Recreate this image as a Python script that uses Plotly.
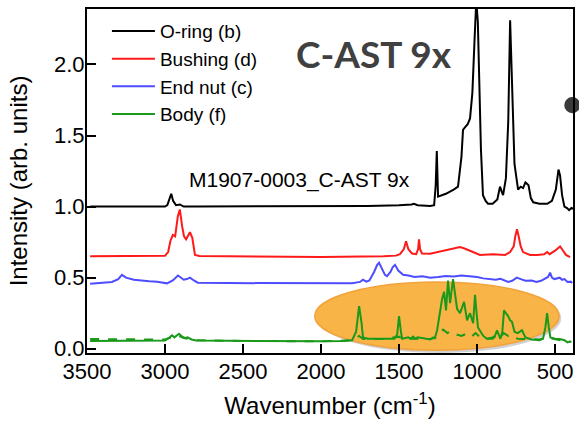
import plotly.graph_objects as go

# ---------------- data ----------------
oring_x = [3480, 3100, 3000, 2985, 2972, 2960, 2948, 2930, 2905, 2880, 2800, 2500, 2000, 1700, 1500, 1450, 1420, 1405, 1380,
           1300, 1275, 1265, 1258, 1250, 1200, 1150, 1122, 1100, 1090, 1075, 1060, 1045, 1030, 1015, 1005, 995, 985, 975, 962,
           945, 930, 900, 870, 853, 840, 833, 815, 800, 788, 776, 760, 737, 720, 705, 690, 680, 670, 655, 640, 600,
           550, 520, 495, 478, 468, 455, 440, 423, 410, 395, 385]
oring_y = [1.00, 1.00, 1.00, 1.01, 1.05, 1.09, 1.04, 1.01, 1.015, 1.00, 1.00, 1.00, 1.00, 1.005, 1.01, 1.01, 1.015, 1.02, 1.01,
           1.005, 1.01, 1.15, 1.39, 1.07, 1.09, 1.12, 1.14, 1.35, 1.54, 1.56, 1.58, 1.62, 1.80, 2.20, 2.45, 2.30, 1.80, 1.40, 1.08,
           1.04, 1.02, 1.02, 1.05, 1.14, 1.10, 1.08, 1.20, 1.60, 2.31, 1.80, 1.30, 1.12, 1.14, 1.13, 1.17, 1.16, 1.15, 1.06, 1.03, 1.02,
           1.02, 1.04, 1.12, 1.26, 1.22, 1.08, 1.00, 0.99, 0.975, 0.99, 0.985]

bush_x = [3480, 3200, 3000, 2980, 2965, 2950, 2935, 2918, 2905, 2890, 2878, 2865, 2852, 2840, 2825, 2808, 2780, 2500, 2000,
          1600, 1520, 1494, 1470, 1455, 1440, 1417, 1390, 1378, 1372, 1365, 1353, 1301, 1237, 1170, 1109, 1080, 1045, 1010, 981,
          900, 820, 788, 765, 755, 744, 733, 720, 705, 660, 615, 570, 551, 535, 500, 480, 468, 455, 430, 404]
bush_y = [0.650, 0.650, 0.655, 0.680, 0.760, 0.800, 0.790, 0.930, 0.980, 0.860, 0.790, 0.770, 0.800, 0.820, 0.780, 0.660, 0.652, 0.650, 0.645,
          0.650, 0.655, 0.665, 0.700, 0.755, 0.700, 0.670, 0.665, 0.700, 0.770, 0.700, 0.670, 0.668, 0.685, 0.700, 0.715, 0.705, 0.690, 0.670, 0.660,
          0.665, 0.660, 0.680, 0.720, 0.790, 0.840, 0.790, 0.720, 0.680, 0.660, 0.660, 0.665, 0.680, 0.665, 0.690, 0.710, 0.720, 0.700, 0.660, 0.645]

nut_x = [3480, 3400, 3340, 3300, 3276, 3250, 3200, 3100, 3050, 2987, 2950, 2917, 2895, 2880, 2860, 2840, 2815, 2790, 2600,
         2300, 2000, 1800, 1750, 1731, 1710, 1690, 1660, 1640, 1628, 1610, 1590, 1577, 1555, 1540, 1526, 1505, 1474, 1440, 1400,
         1350, 1300, 1250, 1200, 1150, 1100, 1050, 1000, 960, 920, 880, 850, 820, 800, 775, 745, 720, 690, 650, 620, 590,
         560, 545, 532, 520, 505, 485, 470, 455, 440, 420, 400, 390]
nut_y = [0.458, 0.462, 0.470, 0.490, 0.520, 0.500, 0.485, 0.475, 0.472, 0.460, 0.480, 0.515, 0.500, 0.485, 0.490, 0.500, 0.480, 0.465, 0.462,
         0.460, 0.458, 0.460, 0.470, 0.486, 0.472, 0.480, 0.540, 0.590, 0.605, 0.560, 0.520, 0.510, 0.540, 0.575, 0.590, 0.550, 0.520, 0.515, 0.505,
         0.510, 0.500, 0.505, 0.512, 0.508, 0.515, 0.510, 0.505, 0.495, 0.490, 0.485, 0.492, 0.480, 0.470, 0.478, 0.500, 0.490, 0.478, 0.480, 0.470, 0.478,
         0.500, 0.505, 0.535, 0.500, 0.490, 0.495, 0.500, 0.485, 0.490, 0.470, 0.472, 0.462]

body_x = [3480, 3200, 3000, 2970, 2955, 2940, 2925, 2910, 2890, 2870, 2855, 2830, 2800, 2500, 2000, 1850, 1801, 1775, 1756,
          1740, 1731, 1700, 1600, 1530, 1512, 1500, 1488, 1480, 1440, 1425, 1410, 1395, 1380, 1340, 1300, 1280, 1270, 1256,
          1240, 1224, 1211, 1199, 1186, 1173, 1154, 1140, 1128, 1109, 1095, 1083, 1064, 1045, 1025, 1013, 1003, 994, 960,
          936, 900, 885, 872, 860, 850, 838, 827, 815, 801, 788, 776, 760, 740, 725, 712, 690, 650, 600, 577,
          562, 551, 540, 530, 500, 470, 440, 420, 405, 395]
body_y = [0.055, 0.055, 0.058, 0.080, 0.095, 0.080, 0.090, 0.105, 0.085, 0.075, 0.080, 0.065, 0.058, 0.055, 0.052, 0.055, 0.060, 0.120, 0.300,
          0.180, 0.080, 0.070, 0.068, 0.070, 0.100, 0.230, 0.120, 0.070, 0.080, 0.070, 0.085, 0.070, 0.080, 0.070, 0.065, 0.080, 0.075, 0.130,
          0.250, 0.350, 0.400, 0.270, 0.480, 0.320, 0.490, 0.360, 0.280, 0.250, 0.300, 0.330, 0.200, 0.250, 0.180, 0.380, 0.250, 0.150, 0.090,
          0.070, 0.080, 0.090, 0.130, 0.090, 0.070, 0.120, 0.270, 0.250, 0.230, 0.200, 0.190, 0.120, 0.110, 0.120, 0.130, 0.080, 0.065, 0.060, 0.070,
          0.150, 0.250, 0.150, 0.080, 0.070, 0.068, 0.060, 0.045, 0.050, 0.048]

body_ref_x = [3480, 3300, 3100, 3000, 2960, 2920, 2880, 2800, 2500, 2000, 1800, 1756, 1730, 1600, 1500, 1480, 1400, 1300,
              1260, 1218, 1190, 1165, 1130, 1100, 1070, 1040, 1010, 980, 940, 900, 870, 850, 830, 800, 780, 740, 700, 640,
              600, 560, 520, 480, 440, 400]
body_ref_y = [0.068, 0.068, 0.067, 0.065, 0.080, 0.095, 0.075, 0.060, 0.055, 0.052, 0.060, 0.090, 0.068, 0.068, 0.085, 0.070, 0.070, 0.068,
              0.080, 0.135, 0.110, 0.125, 0.100, 0.090, 0.105, 0.080, 0.110, 0.080, 0.070, 0.070, 0.100, 0.080, 0.110, 0.090, 0.100, 0.070, 0.068, 0.065,
              0.065, 0.080, 0.070, 0.065, 0.055, 0.050]

series_names = ["O-ring (b)", "Bushing (d)", "End nut (c)", "Body (f)"]
series_colors = ["#000000", "#ff1a1a", "#4d4dff", "#1a991a"]

x_ticks = [3500, 3000, 2500, 2000, 1500, 1000, 500]
y_ticks = [0.0, 0.5, 1.0, 1.5, 2.0]

FONT = "Liberation Sans, Arial, sans-serif"

fig = go.Figure()

for name, col, xs, ys in zip(series_names, series_colors,
                             [oring_x, bush_x, nut_x, body_x],
                             [oring_y, bush_y, nut_y, body_y]):
    fig.add_trace(go.Scatter(x=xs, y=ys, mode="lines", name=name,
                             line=dict(color=col, width=2)))
fig.add_trace(go.Scatter(x=body_ref_x, y=body_ref_y, mode="lines", showlegend=False,
                         line=dict(color=series_colors[3], width=2, dash="dash")))

# highlight ellipse (shadow + orange)
fig.add_shape(type="circle", xref="x", yref="y", x0=2020, x1=460, y0=-0.03, y1=0.46,
              fillcolor="rgba(0,0,0,0.18)", line=dict(width=0), layer="below")
fig.add_shape(type="circle", xref="x", yref="y", x0=2040, x1=474, y0=-0.01, y1=0.47,
              fillcolor="#f9b447", line=dict(color="#f2a23a", width=1.5), layer="below")
# dark dot at right edge
fig.add_shape(type="circle", xref="paper", yref="paper", x0=0.982, x1=1.015, y0=0.697, y1=0.744,
              fillcolor="#3a3a3a", line=dict(width=0), layer="below")

fig.add_annotation(text="C-AST 9x", xref="paper", yref="paper", x=0.59, y=0.872,
                   xanchor="center", yanchor="middle", showarrow=False,
                   font=dict(family="Lato, Open Sans, sans-serif", size=37, color="#404040", weight="bold"))
fig.add_annotation(text="M1907-0003_C-AST 9x", xref="paper", yref="paper", x=0.205, y=0.502,
                   xanchor="left", yanchor="middle", showarrow=False,
                   font=dict(family=FONT, size=21, color="#000000"))

fig.update_layout(
    width=579, height=425,
    margin=dict(l=87, r=6, t=9, b=72, autoexpand=False),
    paper_bgcolor="white", plot_bgcolor="white",
    font=dict(family=FONT, size=21, color="black"),
    legend=dict(x=0.041, y=0.991, xanchor="left", yanchor="top", bgcolor="rgba(0,0,0,0)",
                font=dict(family=FONT, size=19), itemwidth=43, tracegroupgap=0),
)
fig.update_xaxes(range=[3500, 385], tickvals=x_ticks, ticktext=[str(v) for v in x_ticks],
                 showline=True, mirror=True, linecolor="black", linewidth=2, automargin=False,
                 ticks="inside", ticklen=9, tickwidth=2, tickcolor="black", showgrid=False, zeroline=False,
                 tickfont=dict(size=22), ticklabelstandoff=-2,
                 title=dict(text="Wavenumber (cm<sup>-1</sup>)", font=dict(size=24), standoff=14))
fig.update_yaxes(range=[-0.03, 2.39], tickvals=y_ticks, ticktext=["0.0", "0.5", "1.0", "1.5", "2.0"],
                 showline=True, mirror=True, linecolor="black", linewidth=2, automargin=False,
                 ticks="inside", ticklen=9, tickwidth=2, tickcolor="black", showgrid=False, zeroline=False,
                 tickfont=dict(size=22), ticklabelstandoff=-4,
                 title=dict(text="Intensity (arb. units)", font=dict(size=24), standoff=20))

fig.write_html("out.html", config={"displayModeBar": False},
               post_script="document.body.style.margin='0';")
